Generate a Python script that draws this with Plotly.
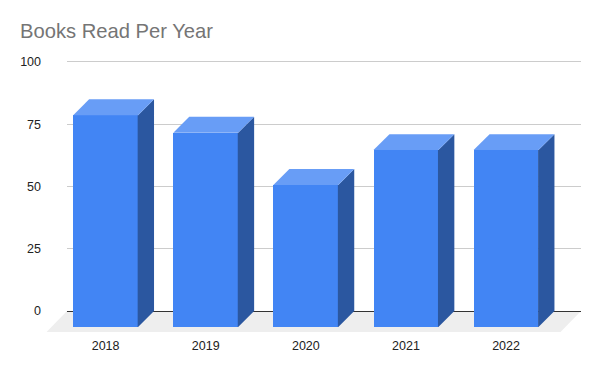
import plotly.graph_objects as go

years = ["2018", "2019", "2020", "2021", "2022"]
books = [85, 78, 57, 71, 71]
y_ticks = [0, 25, 50, 75, 100]

W, H = 600, 371
PLOT_L, PLOT_R, PLOT_T, PLOT_B = 66.5, 581.5, 36.5, 332.5
X_RANGE = [-0.3858, 4.7488]
Y_RANGE = [-8.4, 110]
STEP_PX = 100.3
BAR_W = 65 / STEP_PX
DEPTH_X = 16 / STEP_PX     # bar depth, in category steps
DEPTH_Y = 6.4              # bar depth, in value units
SEAM = 0.4 / STEP_PX       # small overlap so no pale seam shows next to a bar
FLOOR_Y = -8.4
FLOOR_DX = 20.5 / (PLOT_R - PLOT_L)

FRONT, TOP, SIDE, FLOOR = "#4285f4", "#689df6", "#2b57a0", "#eeeeee"

idx = list(range(len(years)))
fig = go.Figure()

# front faces
fig.add_trace(go.Bar(
    x=idx,
    y=books,
    base=[-DEPTH_Y] * len(books),
    width=BAR_W,
    marker=dict(color=FRONT, line=dict(width=0)),
    showlegend=False,
    hoverinfo="x+y",
))

# side and top faces derived from the values
for i, v in zip(idx, books):
    left = i - BAR_W / 2
    right = i + BAR_W / 2
    front_top = v - DEPTH_Y
    fig.add_trace(go.Scatter(
        x=[right - SEAM, right, right + DEPTH_X, right + DEPTH_X, right, right - SEAM, right - SEAM],
        y=[front_top, front_top, v, 0, -DEPTH_Y, -DEPTH_Y, front_top],
        mode="lines", fill="toself", fillcolor=SIDE,
        line=dict(width=0), showlegend=False, hoverinfo="skip",
    ))
    fig.add_trace(go.Scatter(
        x=[left, left + DEPTH_X, right + DEPTH_X, right, left],
        y=[front_top, v, v, front_top, front_top],
        mode="lines", fill="toself", fillcolor=TOP,
        line=dict(width=0), showlegend=False, hoverinfo="skip",
    ))

# floor, underneath everything
fig.add_shape(
    type="path", xref="paper", yref="y", layer="below",
    path=f"M 0 0 L 1 0 L {1 - FLOOR_DX} {FLOOR_Y} L {-FLOOR_DX} {FLOOR_Y} Z",
    fillcolor=FLOOR, line=dict(width=0),
)

fig.update_layout(
    width=W, height=H,
    autosize=False,
    paper_bgcolor="white", plot_bgcolor="white",
    margin=dict(l=PLOT_L, r=W - PLOT_R, t=PLOT_T, b=H - PLOT_B, pad=0),
    title=dict(
        text="Books Read Per Year",
        x=20 / W, xanchor="left", xref="container",
        y=1 - 31 / H, yanchor="middle", yref="container",
        font=dict(family="Liberation Sans", size=20.2, color="#757575"),
    ),
    bargap=0,
    font=dict(family="Liberation Sans", size=12.5, color="#222222"),
    xaxis=dict(
        range=X_RANGE, type="linear", tickmode="array",
        tickvals=idx, ticktext=years, showgrid=False, zeroline=False,
        showline=False, ticks="", ticklabelstandoff=4,
    ),
    yaxis=dict(
        range=Y_RANGE, tickmode="array", tickvals=y_ticks,
        showgrid=True, gridcolor="#cccccc", gridwidth=1,
        zeroline=True, zerolinecolor="#333333", zerolinewidth=1,
        showline=False, ticks="", ticklabelstandoff=25,
    ),
)

fig.write_html(
    "out.html",
    config={"displayModeBar": False},
    post_script="document.body.style.margin='0';",
)
